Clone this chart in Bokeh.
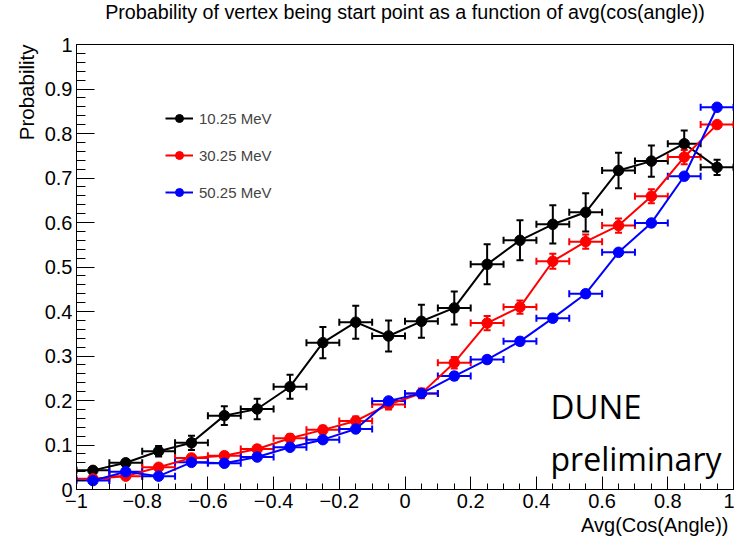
import numpy as np
from bokeh.plotting import figure
from bokeh.models import (ColumnDataSource, Whisker, TeeHead, Range1d, FixedTicker,
                          Label, Legend, LegendItem, Title)
from bokeh.embed import file_html
from bokeh.resources import INLINE

# ---------------- data ----------------
x_centers = [-0.95, -0.85, -0.75, -0.65, -0.55, -0.45, -0.35, -0.25, -0.15, -0.05,
             0.05, 0.15, 0.25, 0.35, 0.45, 0.55, 0.65, 0.75, 0.85, 0.95]
x_halfwidth = 0.05

black_y = [0.043, 0.060, 0.086, 0.105, 0.166, 0.181, 0.231, 0.330, 0.376, 0.345,
           0.378, 0.408, 0.506, 0.560, 0.596, 0.623, 0.717, 0.738, 0.777, 0.724]
black_err = [0.005, 0.006, 0.012, 0.016, 0.021, 0.023, 0.027, 0.035, 0.037, 0.035,
             0.037, 0.037, 0.045, 0.045, 0.043, 0.043, 0.040, 0.035, 0.030, 0.017]

red_y = [0.024, 0.030, 0.050, 0.071, 0.076, 0.091, 0.115, 0.134, 0.154, 0.191,
         0.216, 0.285, 0.374, 0.410, 0.513, 0.557, 0.593, 0.659, 0.747, 0.820]
red_err = [0.004, 0.005, 0.006, 0.007, 0.007, 0.008, 0.009, 0.009, 0.010, 0.011,
           0.011, 0.013, 0.016, 0.015, 0.017, 0.016, 0.016, 0.016, 0.016, 0.006]

blue_y = [0.020, 0.040, 0.030, 0.061, 0.059, 0.073, 0.095, 0.112, 0.136, 0.199,
          0.216, 0.255, 0.292, 0.333, 0.385, 0.440, 0.533, 0.599, 0.704, 0.859]
blue_err = [0.003, 0.004, 0.004, 0.004, 0.004, 0.005, 0.005, 0.005, 0.006, 0.007,
            0.007, 0.008, 0.008, 0.008, 0.008, 0.008, 0.007, 0.007, 0.006, 0.004]

series_names = ["10.25 MeV", "30.25 MeV", "50.25 MeV"]
series_colors = ["#000000", "#ff0000", "#0000ff"]

x_ticks = [-1.0, -0.8, -0.6, -0.4, -0.2, 0.0, 0.2, 0.4, 0.6, 0.8, 1.0]
x_tick_labels = ["\u22121", "\u22120.8", "\u22120.6", "\u22120.4", "\u22120.2", "0",
                 "0.2", "0.4", "0.6", "0.8", "1"]
y_ticks = [0.0, 0.1, 0.2, 0.3, 0.4, 0.5, 0.6, 0.7, 0.8, 0.9, 1.0]
y_tick_labels = ["0", "0.1", "0.2", "0.3", "0.4", "0.5", "0.6", "0.7", "0.8", "0.9", "1"]

title_text = "Probability of vertex being start point as a function of avg(cos(angle))"
x_title = "Avg(Cos(Angle))"
y_title = "Probability"

FONT = "Liberation Sans"

# ---------------- figure ----------------
p = figure(frame_width=657, frame_height=445, output_backend="svg", toolbar_location=None,
           x_range=Range1d(-1, 1), y_range=Range1d(0, 1), title=title_text,
           min_border_left=76, min_border_right=1, min_border_top=44, min_border_bottom=52)
p.grid.visible = False
p.outline_line_color = "black"
p.outline_line_width = 1
p.background_fill_color = "white"
p.border_fill_color = "white"

p.title.align = "center"
p.title.vertical_align = "top"
p.title.text_font = FONT
p.title.text_font_size = "19.7px"
p.title.text_font_style = "normal"
p.title.text_color = "black"
p.title.standoff = 0

# invisible spacer between the frame and the main title (pushes title to the top edge)
spacer = Title(text=" ", text_font_size="2px", standoff=16)
p.add_layout(spacer, "above")

xminor = list(np.round(np.arange(-1.0, 1.0001, 0.05), 4))
yminor = list(np.round(np.arange(0.0, 1.0001, 0.02), 4))
p.xaxis.ticker = FixedTicker(ticks=x_ticks, minor_ticks=xminor)
p.yaxis.ticker = FixedTicker(ticks=y_ticks, minor_ticks=yminor)
p.xaxis.major_label_overrides = dict(zip(x_ticks, x_tick_labels))
p.yaxis.major_label_overrides = dict(zip(y_ticks, y_tick_labels))

for ax in (p.xaxis, p.yaxis):
    ax.axis_line_color = "black"
    ax.axis_line_width = 1
    ax.major_tick_line_color = "black"
    ax.minor_tick_line_color = "black"
    ax.major_tick_out = 0
    ax.minor_tick_out = 0
    ax.major_label_text_font = FONT
    ax.major_label_text_font_size = "20px"
    ax.major_label_text_color = "black"
p.xaxis.major_tick_in = 13
p.xaxis.minor_tick_in = 6
p.yaxis.major_tick_in = 18
p.yaxis.minor_tick_in = 9
p.xaxis.major_label_standoff = 4
p.yaxis.major_label_standoff = 4

# axis titles as side titles (right/top aligned like ROOT)
xt = Title(text=x_title, align="right", text_font=FONT, text_font_size="20px",
           text_font_style="normal", text_color="black", standoff=2, offset=5)
yt = Title(text=y_title, align="right", text_font=FONT, text_font_size="20.5px",
           text_font_style="normal", text_color="black", standoff=8, offset=0)
p.add_layout(xt, "below")
p.add_layout(yt, "left")

# ---------------- series ----------------
legend_items = []
for name, col, ys, errs in zip(series_names, series_colors,
                                [black_y, red_y, blue_y], [black_err, red_err, blue_err]):
    src = ColumnDataSource(dict(
        x=x_centers, y=ys,
        xl=[x - x_halfwidth for x in x_centers], xu=[x + x_halfwidth for x in x_centers],
        yl=[y - e for y, e in zip(ys, errs)], yu=[y + e for y, e in zip(ys, errs)],
    ))
    wv = Whisker(source=src, base="x", lower="yl", upper="yu", dimension="height",
                 line_color=col, line_width=2,
                 upper_head=TeeHead(size=7, line_color=col, line_width=2),
                 lower_head=TeeHead(size=7, line_color=col, line_width=2))
    wh = Whisker(source=src, base="y", lower="xl", upper="xu", dimension="width",
                 line_color=col, line_width=2,
                 upper_head=TeeHead(size=7, line_color=col, line_width=2),
                 lower_head=TeeHead(size=7, line_color=col, line_width=2))
    p.add_layout(wv)
    p.add_layout(wh)
    lr = p.line("x", "y", source=src, line_color=col, line_width=2)
    sr = p.scatter("x", "y", source=src, size=10.5, fill_color=col, line_color=col)
    legend_items.append(LegendItem(label=name, renderers=[lr, sr]))

legend = Legend(items=legend_items, location=(89, 287), border_line_color=None,
                background_fill_alpha=0, padding=0, margin=0, spacing=17,
                glyph_width=28, glyph_height=20, label_standoff=6,
                label_text_font=FONT, label_text_font_size="15px")
p.add_layout(legend)

# ---------------- watermark text ----------------
p.add_layout(Label(x=474, y=83, x_units="screen", y_units="screen", text="DUNE",
                   text_font="Open Sans", text_font_size="33px", text_align="left",
                   text_baseline="alphabetic", text_color="black"))
p.add_layout(Label(x=474, y=31, x_units="screen", y_units="screen", text="preliminary",
                   text_font="Open Sans", text_font_size="32px", text_align="left",
                   text_baseline="alphabetic", text_color="black"))

open("out.html", "w").write(file_html(p, INLINE))
